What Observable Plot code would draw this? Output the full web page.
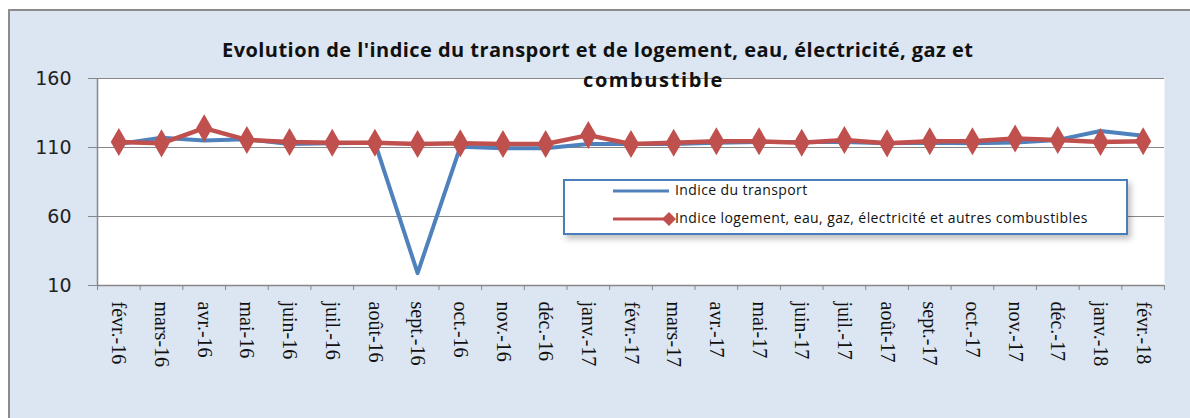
<!DOCTYPE html>
<html>
<head>
<meta charset="utf-8">
<script src="https://cdn.jsdelivr.net/npm/d3@7"></script>
<script src="https://cdn.jsdelivr.net/npm/@observablehq/plot@0.6"></script>
<style>
  html, body { margin: 0; padding: 0; background: #ffffff; }
  #wrap { position: relative; width: 1190px; height: 418px; overflow: hidden; }
  #bg { position: absolute; left: 8px; top: 9px; width: 1200px; height: 420px;
        background: #dce6f2; border-left: 2px solid #8c8c8c; border-top: 2px solid #8c8c8c; }
  #chart { position: absolute; left: 0; top: 0; }
  .title { position: absolute; font-family: "Open Sans", sans-serif; font-weight: bold;
           font-size: 20px; letter-spacing: 0.45px; color: #111; white-space: nowrap; }
  #legend { position: absolute; left: 563px; top: 179px; width: 561px; height: 52px;
            border: 2px solid #4a7ebb; background: #ffffff;
            box-shadow: 3px 4px 6px rgba(0,0,0,0.25); }
  .lg { position: absolute; font-family: "Open Sans", sans-serif; font-size: 14px; letter-spacing: 0.4px; color: #111; white-space: nowrap; }
</style>
</head>
<body>
<div id="wrap">
  <div id="bg"></div>
  <div id="chart"></div>
  <div class="title" id="t1" style="left:222px; top:36px;">Evolution de l'indice du transport et de logement, eau, électricité, gaz et</div>
  <div class="title" id="t2" style="left:583px; top:66px; letter-spacing:1.6px;">combustible</div>
  <div id="legend"></div>
</div>
<script>
const months = ["févr.-16","mars-16","avr.-16","mai-16","juin-16","juil.-16","août-16","sept.-16","oct.-16","nov.-16","déc.-16","janv.-17",
  "févr.-17","mars-17","avr.-17","mai-17","juin-17","juil.-17","août-17","sept.-17","oct.-17","nov.-17","déc.-17","janv.-18","févr.-18"];
const transport = [112.5,117,115,116,112.5,113,113.5,19,110.5,109.5,109.5,112.5,112.5,112.5,113.5,114,114,114,113,113.5,113,113.6,115.5,122,118.5];
const logement = [114,113,124,115.5,114,113.5,113.5,112.5,113,112.5,112.5,119,112.5,113.5,114.5,114.5,113.5,115.5,113,114.5,114.5,116.5,115.5,114,114.5];
const yTicks = [10,60,110,160];
const seriesNames = ["Indice du transport","Indice logement, eau, gaz, électricité et autres combustibles"];
const colors = ["#4f81bd","#c0504d"];

const idx = d3.range(months.length);
const tData = idx.map(i => ({i, v: transport[i]}));
const lData = idx.map(i => ({i, v: logement[i]}));

const chart = Plot.plot({
  width: 1190,
  height: 418,
  marginLeft: 97,
  marginRight: 26,
  marginTop: 78,
  marginBottom: 133,
  style: {background: "transparent", overflow: "visible"},
  x: {type: "linear", domain: [-0.5, months.length - 0.5]},
  y: {domain: [10, 160]},
  marks: [
    Plot.frame({fill: "white", stroke: null}),
    Plot.gridY([60, 110, 160], {stroke: "#878787", strokeOpacity: 1, strokeWidth: 1}),
    Plot.axisY({ticks: yTicks, tickSize: 9, tickPadding: 17, stroke: "#878787",
      fontFamily: "DejaVu Sans", fontSize: 19, fill: "#222", label: null}),
    Plot.ruleX([-0.5], {stroke: "#878787", strokeWidth: 1.5}),
    Plot.ruleY([10], {stroke: "#878787", strokeWidth: 1.5}),
    Plot.axisX({ticks: d3.range(-0.5, months.length, 1), tickSize: 5, tickFormat: () => "", stroke: "#878787", label: null}),
    Plot.axisX({ticks: idx, tickSize: 0, tickPadding: 16, tickRotate: 90, tickFormat: i => months[i],
      fontFamily: "Liberation Serif", fontSize: 20, fill: "#111", label: null}),
    Plot.line(tData, {x: "i", y: "v", stroke: colors[0], strokeWidth: 4, strokeLinejoin: "round"}),
    Plot.line(lData, {x: "i", y: "v", stroke: colors[1], strokeWidth: 4.5, strokeLinejoin: "round"}),
    Plot.dot(lData, {x: "i", y: "v", symbol: "diamond", r: 8.5, fill: colors[1], stroke: null})
  ]
});
document.getElementById("chart").appendChild(chart);

// legend
const lg = document.getElementById("legend");
const ns = "http://www.w3.org/2000/svg";
const svg = document.createElementNS(ns, "svg");
svg.setAttribute("width", 120); svg.setAttribute("height", 52);
svg.style.position = "absolute"; svg.style.left = "0px"; svg.style.top = "0px";
[[10, colors[0], false], [38, colors[1], true]].forEach(([y, c, mk]) => {
  const ln = document.createElementNS(ns, "line");
  ln.setAttribute("x1", 48); ln.setAttribute("x2", 104); ln.setAttribute("y1", y); ln.setAttribute("y2", y);
  ln.setAttribute("stroke", c); ln.setAttribute("stroke-width", 3);
  svg.appendChild(ln);
  if (mk) {
    const p = document.createElementNS(ns, "path");
    p.setAttribute("d", `M104,${y-7}L111,${y}L104,${y+7}L97,${y}Z`);
    p.setAttribute("fill", c);
    svg.appendChild(p);
  }
});
lg.appendChild(svg);
seriesNames.forEach((n, k) => {
  const d = document.createElement("div");
  d.className = "lg"; d.textContent = n;
  d.style.left = "110px"; d.style.top = (k === 0 ? -1 : 27) + "px";
  lg.appendChild(d);
});
</script>
</body>
</html>
